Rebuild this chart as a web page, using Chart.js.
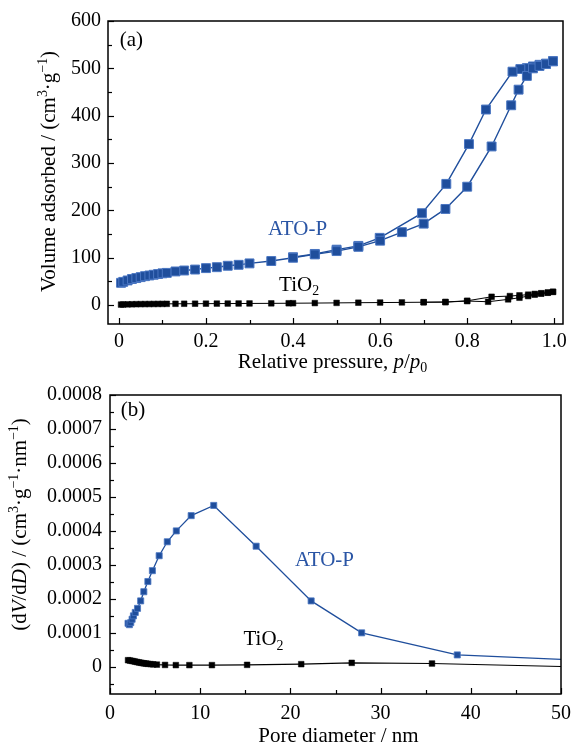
<!DOCTYPE html>
<html><head><meta charset="utf-8">
<script src="https://cdn.jsdelivr.net/npm/chart.js@4.4.0/dist/chart.umd.min.js"></script>
<style>
html,body{margin:0;padding:0;background:#fff;width:579px;height:747px;overflow:hidden}
#wa{position:absolute;left:0;top:0;width:579px;height:375px}
#wb{position:absolute;left:0;top:375px;width:579px;height:372px}
canvas{display:block}
</style></head><body>
<div id="wa"><canvas id="ca" width="579" height="375"></canvas></div>
<div id="wb"><canvas id="cb" width="579" height="372"></canvas></div>
<script>
// ---------- (a) N2 isotherms ----------
const pAdsA = [0.005,0.01,0.02,0.03,0.04,0.05,0.06,0.07,0.08,0.09,0.10,0.11,0.13,0.15,0.175,0.2,0.225,0.25,0.275,0.3,0.35,0.4,0.45,0.5,0.55,0.6,0.65,0.7,0.75,0.8,0.856,0.901,0.918,0.937,0.951,0.966,0.981,0.997];
const vAdsA = [47,49,52,55,57,59,61,62.5,64,65.5,67,68,71,73,75,78,80,83,85,88,93,100,107,114,123,136,154,172,203,250,335,422,455,484,500,505,509,515];
const pDesA = [0.997,0.981,0.966,0.951,0.937,0.922,0.904,0.843,0.804,0.752,0.696,0.599,0.55,0.5,0.45,0.4];
const vDesA = [515,510,507.5,504,500.5,498.5,493,413,340,256,194,142,125,117,108,101];
const pAdsT = [0.005,0.01,0.02,0.03,0.04,0.05,0.06,0.07,0.08,0.09,0.10,0.11,0.13,0.15,0.175,0.2,0.225,0.25,0.275,0.3,0.35,0.39,0.4,0.45,0.5,0.55,0.6,0.65,0.7,0.75,0.8,0.848,0.894,0.92,0.94,0.955,0.97,0.985,0.997];
const vAdsT = [1,1.2,1.5,1.7,1.9,2,2.1,2.2,2.3,2.4,2.5,2.6,2.7,2.8,2.9,3,3.1,3.2,3.3,3.4,3.6,3.8,3.9,4.2,4.6,5,5.3,5.6,6,6.2,8.5,7,12,15.5,19,22,24,26,28];
const pDesT = [0.997,0.985,0.97,0.955,0.94,0.92,0.898,0.856,0.8,0.75,0.7];
const vDesT = [28,26.5,25,23.5,22,20.5,19,17.5,9,6.5,6];
const xTicksA = [0,0.2,0.4,0.6,0.8,1.0];
const xTickLabelsA = ['0','0.2','0.4','0.6','0.8','1.0'];
const xMinorA = [0.1,0.3,0.5,0.7,0.9];
const yTicksA = [0,100,200,300,400,500,600];
const yTickLabelsA = ['0','100','200','300','400','500','600'];
const yMinorA = [50,150,250,350,450,550];

// ---------- (b) pore size distribution ----------
const dA = [2.0,2.15,2.3,2.45,2.6,2.8,3.05,3.4,3.75,4.2,4.7,5.45,6.35,7.35,9.0,11.5,16.2,22.3,27.9,38.5,50];
const yA = [0.000128,0.000124,0.000130,0.000140,0.000150,0.000160,0.000172,0.000194,0.000221,0.000251,0.000283,0.000327,0.000368,0.000400,0.000445,0.000475,0.000355,0.000194,0.000100,0.000035,0.000022];
const dT = [2.0,2.2,2.4,2.6,2.8,3.0,3.2,3.4,3.6,3.8,4.0,4.2,4.5,4.8,5.2,6.1,7.3,8.8,11.3,15.2,21.2,26.8,35.7,50];
const yT = [0.0000195,0.0000185,0.0000175,0.0000165,0.0000152,0.000014,0.000013,0.000012,0.000011,0.0000102,0.0000095,0.0000088,0.000008,0.0000072,0.0000065,0.0000055,0.000005,0.000005,0.000005,0.0000058,0.0000078,0.0000117,0.0000097,0.000001];
const xTicksB = [0,10,20,30,40,50];
const xTickLabelsB = ['0','10','20','30','40','50'];
const xMinorB = [5,15,25,35,45];
const yTicksB = [0,0.0001,0.0002,0.0003,0.0004,0.0005,0.0006,0.0007,0.0008];
const yTickLabelsB = ['0','0.0001','0.0002','0.0003','0.0004','0.0005','0.0006','0.0007','0.0008'];
const yMinorB = [-0.00005,0.00005,0.00015,0.00025,0.00035,0.00045,0.00055,0.00065,0.00075];

const FONT = '"Liberation Serif","Times New Roman",serif';
const BLUE = '#1f4e9c';
const BLUE_EDGE = '#4a76c2';
const BLUE_TEXT = '#2a55a5';

function pts(xs, ys){ return xs.map((v,i)=>({x:v,y:ys[i]})); }

function fontFor(s, fs){
  const size = (s.sup||s.sub) ? fs*0.66 : fs;
  return (s.i ? 'italic ' : '') + size.toFixed(1) + 'px ' + FONT;
}
function drawRich(ctx, segs, x, y, fs, rot, color, align){
  ctx.save();
  ctx.translate(x, y); ctx.rotate(rot);
  ctx.fillStyle = color; ctx.textBaseline = 'alphabetic'; ctx.textAlign = 'left';
  let w = 0;
  for (const s of segs){ ctx.font = fontFor(s, fs); w += ctx.measureText(s.t).width; }
  let cx = align === 'left' ? 0 : -w/2;
  for (const s of segs){
    ctx.font = fontFor(s, fs);
    const dy = s.sup ? -fs*0.36 : (s.sub ? fs*0.2 : 0);
    ctx.fillText(s.t, cx, dy);
    cx += ctx.measureText(s.t).width;
  }
  ctx.restore();
}

const overlay = {
  id: 'overlay',
  afterDraw(chart, args, o){
    const {ctx, chartArea:a, scales:{x, y}} = chart;
    ctx.save();
    ctx.strokeStyle = '#000'; ctx.lineWidth = 1.2;
    const ln = (x1,y1,x2,y2)=>{ctx.beginPath();ctx.moveTo(x1,y1);ctx.lineTo(x2,y2);ctx.stroke();};
    o.xMajor.forEach(v=>{const p=Math.round(x.getPixelForValue(v))+0.5; ln(p,a.bottom,p,a.bottom-6);});
    o.xMinor.forEach(v=>{const p=Math.round(x.getPixelForValue(v))+0.5; ln(p,a.bottom,p,a.bottom-4);});
    o.yMajor.forEach(v=>{const p=Math.round(y.getPixelForValue(v))+0.5; ln(a.left,p,a.left+6,p);});
    o.yMinor.forEach(v=>{const p=Math.round(y.getPixelForValue(v))+0.5; ln(a.left,p,a.left+4,p);});
    ctx.lineWidth = 1.5;
    ctx.strokeRect(a.left, a.top, a.right-a.left, a.bottom-a.top);
    // axis titles
    drawRich(ctx, o.xTitle, (a.left+a.right)/2 + o.xTitleDx, o.xTitleY, o.titleSize, 0, '#000');
    drawRich(ctx, o.yTitle, o.yTitleX, (a.top+a.bottom)/2 + o.yTitleDy, o.titleSize, -Math.PI/2, '#000');
    // in-plot labels (positioned in data coordinates)
    o.notes.forEach(n=>{
      drawRich(ctx, n.segs, x.getPixelForValue(n.x), y.getPixelForValue(n.y), o.noteSize, 0, n.color, 'left');
    });
    ctx.restore();
  }
};

function makeScale(min, max, ticks, labels, fitSize, isX, pad, fs){
  return {
    type: 'linear', min, max,
    afterBuildTicks: s => { s.ticks = ticks.map(v=>({value:v})); },
    afterFit: s => { if (isX) s.height = fitSize; else s.width = fitSize; },
    grid: { display: false, drawTicks: false },
    border: { display: false },
    ticks: { autoSkip:false, maxRotation:0, padding: pad, color:'#000',
      font: { family: FONT, size: fs },
      callback: (v,i) => labels[i] }
  };
}

function lineDs(data, color, edge, r, bw, lw, radiusArr){
  return { data, showLine:true, borderColor: color, borderWidth: lw,
    pointStyle:'rect', pointRadius: radiusArr || r, pointHoverRadius: r,
    pointBackgroundColor: color, pointBorderColor: edge, pointBorderWidth: bw, tension: 0 };
}

Chart.defaults.animation = false;

new Chart(document.getElementById('ca'), {
  type: 'scatter',
  data: { datasets: [
    lineDs(pts(pAdsT, vAdsT), '#000', '#000', 4, 0.5, 1),
    lineDs(pts(pDesT, vDesT), '#000', '#000', 4, 0.5, 1),
    lineDs(pts(pAdsA, vAdsA), BLUE, BLUE_EDGE, 6.3, 1, 1.4),
    lineDs(pts(pDesA, vDesA), BLUE, BLUE_EDGE, 6.3, 1, 1.4)
  ]},
  options: {
    responsive: false, animation: false, devicePixelRatio: 1,
    layout: { padding: { left: 0, right: 16, top: 21, bottom: 0 } },
    plugins: { legend:{display:false}, tooltip:{enabled:false},
      overlay: {
        xMajor: xTicksA, xMinor: xMinorA, yMajor: yTicksA, yMinor: yMinorA,
        titleSize: 21, noteSize: 21,
        xTitle: [{t:'Relative pressure, '},{t:'p',i:1},{t:'/'},{t:'p',i:1},{t:'0',sub:1}],
        xTitleY: 368, xTitleDx: -3,
        yTitle: [{t:'Volume adsorbed / (cm'},{t:'3',sup:1},{t:'·g'},{t:'−1',sup:1},{t:')'}],
        yTitleX: 55, yTitleDy: -1,
        notes: [
          {segs:[{t:'(a)'}], x:0.002, y:548, color:'#000'},
          {segs:[{t:'ATO-P'}], x:0.3425, y:148.5, color:BLUE_TEXT},
          {segs:[{t:'TiO'},{t:'2',sub:1}], x:0.368, y:30, color:'#000'}
        ]
      }
    },
    scales: {
      x: makeScale(-0.025, 1.02, xTicksA, xTickLabelsA, 51, true, 6, 20),
      y: makeScale(-40, 600, yTicksA, yTickLabelsA, 108, false, 7, 20)
    }
  },
  plugins: [overlay]
});

const lastB = dA.length - 1;
new Chart(document.getElementById('cb'), {
  type: 'scatter',
  data: { datasets: [
    lineDs(pts(dT, yT), '#000', '#000', 4, 0.5, 1.2, dT.map((_,i)=> i===dT.length-1 ? 0 : 4)),
    lineDs(pts(dA, yA), BLUE, BLUE_EDGE, 4.3, 0.8, 1.3, dA.map((_,i)=> i===lastB ? 0 : 4.3))
  ]},
  options: {
    responsive: false, animation: false, devicePixelRatio: 1,
    layout: { padding: { left: 0, right: 15, top: 17, bottom: 0 } },
    plugins: { legend:{display:false}, tooltip:{enabled:false},
      overlay: {
        xMajor: xTicksB, xMinor: xMinorB, yMajor: yTicksB, yMinor: yMinorB,
        titleSize: 21, noteSize: 21,
        xTitle: [{t:'Pore diameter / nm'}],
        xTitleY: 742 - 375, xTitleDx: 3,
        yTitle: [{t:'(d'},{t:'V',i:1},{t:'/d'},{t:'D',i:1},{t:') / (cm'},{t:'3',sup:1},{t:'·g'},{t:'−1',sup:1},{t:'·nm'},{t:'−1',sup:1},{t:')'}],
        yTitleX: 26, yTitleDy: -20,
        notes: [
          {segs:[{t:'(b)'}], x:1.2, y:0.000739, color:'#000'},
          {segs:[{t:'ATO-P'}], x:20.5, y:0.000296, color:BLUE_TEXT},
          {segs:[{t:'TiO'},{t:'2',sub:1}], x:14.8, y:0.0000632, color:'#000'}
        ]
      }
    },
    scales: {
      x: makeScale(0, 50, xTicksB, xTickLabelsB, 53, true, 8, 20),
      y: makeScale(-0.00008, 0.0008, yTicksB, yTickLabelsB, 110, false, 8, 20)
    }
  },
  plugins: [overlay]
});
</script>
</body></html>
